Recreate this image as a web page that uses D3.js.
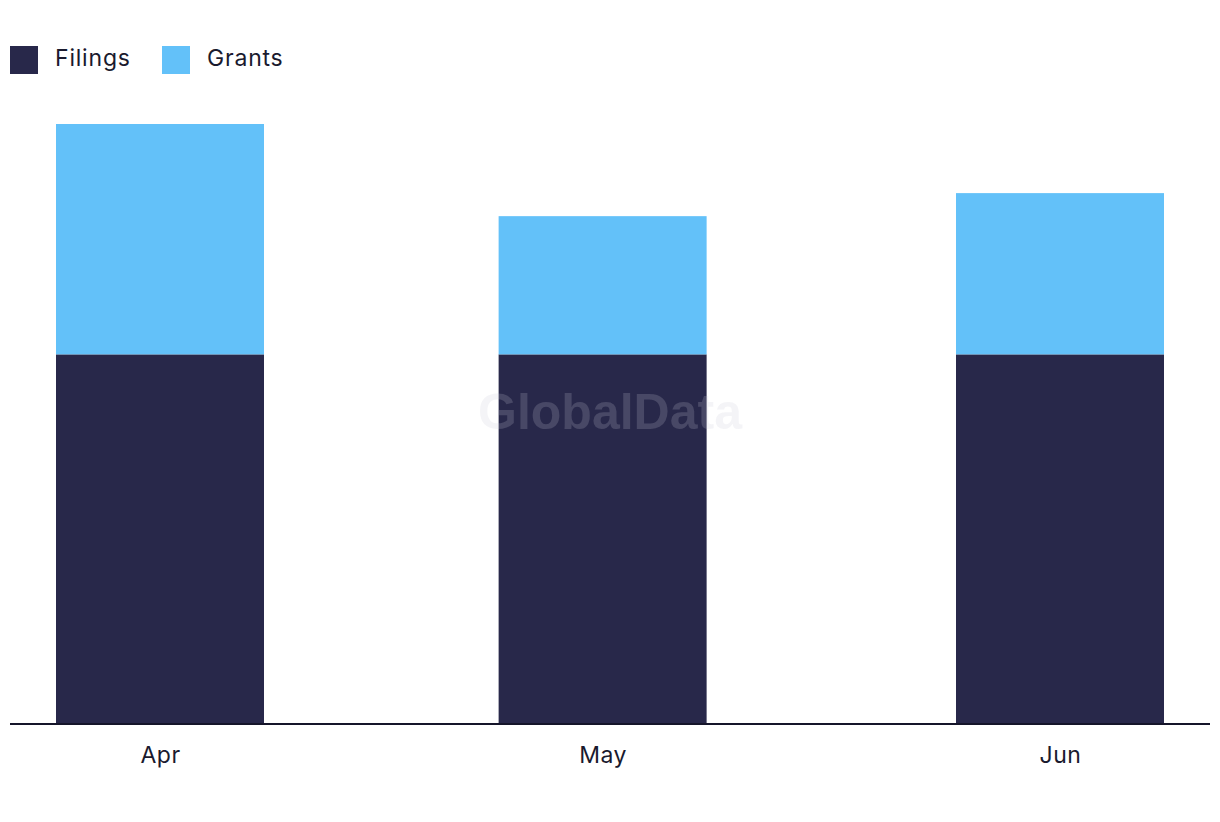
<!DOCTYPE html>
<html>
<head>
<meta charset="utf-8">
<script src="https://cdn.jsdelivr.net/npm/d3@7"></script>
<style>
  html, body { margin: 0; padding: 0; background: #fff; }
  svg { display: block; font-family: Inter, "Noto Sans", sans-serif; }
</style>
</head>
<body>
<svg id="chart" width="1220" height="822"></svg>
<script>
const months = ["2023-04-01", "2023-05-01", "2023-06-01"];
const monthLabels = ["Apr", "May", "Jun"];
const filings = [16, 16, 16];
const grants = [10, 6, 7];
const seriesNames = ["Filings", "Grants"];
const colors = ["#28284a", "#63c1f9"];

const svg = d3.select("#chart");
const left = 10, right = 1210, baseline = 723;

const dates = months.map(d => new Date(d + "T00:00:00Z"));
const x = d3.scaleUtc()
  .domain([dates[0], dates[dates.length - 1]])
  .range([left + 150, right - 150]);
const y = d3.scaleLinear().domain([0, 26]).range([baseline, 124]);

const rows = dates.map((d, i) => ({ date: d, label: monthLabels[i], Filings: filings[i], Grants: grants[i] }));
const stack = d3.stack().keys(seriesNames)(rows);
const barW = 208;

svg.append("g").selectAll("g")
  .data(stack).join("g")
  .attr("fill", (d, i) => colors[i])
  .selectAll("rect")
  .data(d => d).join("rect")
  .attr("x", d => x(d.data.date) - barW / 2)
  .attr("width", barW)
  .attr("y", d => y(d[1]))
  .attr("height", d => y(d[0]) - y(d[1]));

// axis
const axis = d3.axisBottom(x)
  .tickValues(dates)
  .tickFormat((d, i) => monthLabels[i])
  .tickSize(0)
  .tickPadding(24);
const gx = svg.append("g").attr("transform", `translate(0,${baseline})`).call(axis);
gx.select(".domain").remove();
gx.selectAll("text").attr("font-size", 23).attr("fill", "#1a1a2e")
  .attr("letter-spacing", 0.5)
  .attr("font-family", "Inter, 'Noto Sans', sans-serif");
svg.append("line")
  .attr("x1", left).attr("x2", right)
  .attr("y1", baseline + 1).attr("y2", baseline + 1)
  .attr("stroke", "#15152a").attr("stroke-width", 2);

// watermark
svg.append("text")
  .attr("x", 610).attr("y", 429)
  .attr("text-anchor", "middle")
  .attr("font-size", 50).attr("font-weight", "bold")
  .attr("font-family", "'Liberation Sans', Arial, sans-serif")
  .attr("fill", "rgb(200,200,215)").attr("fill-opacity", 0.2)
  .text("GlobalData");

// legend
const legendX = [10, 162];
const lg = svg.append("g").selectAll("g").data(seriesNames).join("g")
  .attr("transform", (d, i) => `translate(${legendX[i]},46)`);
lg.append("rect").attr("width", 28).attr("height", 28).attr("fill", (d, i) => colors[i]);
lg.append("text").attr("x", 45).attr("y", 20)
  .attr("font-size", 23).attr("fill", "#1a1a2e")
  .attr("letter-spacing", 0.8)
  .text(d => d);
</script>
</body>
</html>
